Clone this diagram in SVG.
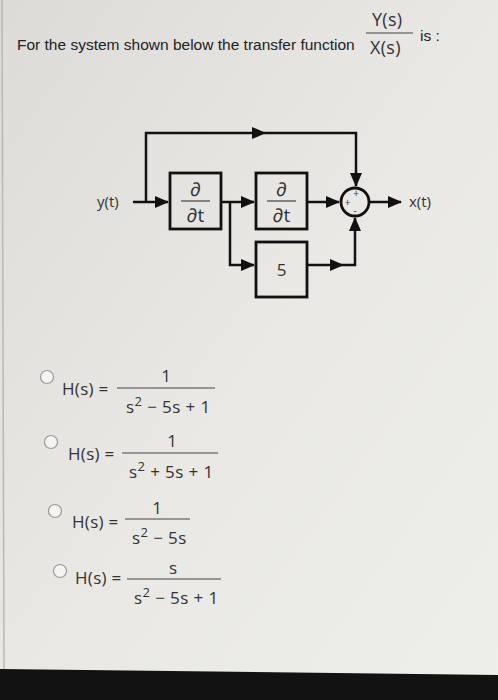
<svg xmlns="http://www.w3.org/2000/svg" width="498" height="700" viewBox="0 0 498 700">
<defs>
<linearGradient id="bg" x1="0" y1="0" x2="1" y2="1">
<stop offset="0" stop-color="#dddbd8"/>
<stop offset="0.5" stop-color="#e9e8e5"/>
<stop offset="1" stop-color="#eeeeea"/>
</linearGradient>
<marker id="ah" markerUnits="userSpaceOnUse" markerWidth="14" markerHeight="12" refX="13" refY="6" orient="auto">
<path d="M0,0 L14,6 L0,12 Z" fill="#111"/>
</marker>
</defs>
<style>
.q{font-family:"Liberation Sans",Arial,sans-serif;font-size:15.5px;fill:#222}
.m{font-family:"Open Sans","DejaVu Sans",sans-serif;fill:#333}
.w{stroke:#111;stroke-width:2.5;fill:none}
.blk{fill:none;stroke:#111;stroke-width:2.8}
.fl{stroke:#444;stroke-width:1.2}
.rad{fill:#f4f4f2;stroke:#999;stroke-width:1.2}
</style>
<rect width="498" height="700" fill="url(#bg)"/>
<line x1="2" y1="0" x2="4" y2="670" stroke="#b8b8b4" stroke-width="1.5"/>
<polygon points="0,669 498,675 498,700 0,700" fill="#121212"/>

<g id="question">
<text class="q" x="17" y="50">For the system shown below the transfer function</text>
<text class="m" x="372" y="26" font-size="18" letter-spacing="0.3">Y(s)</text>
<line class="fl" x1="366" y1="33" x2="413" y2="33"/>
<text class="m" x="370" y="54" font-size="18" letter-spacing="0.3">X(s)</text>
<text class="q" x="420" y="41">is :</text>
</g>

<g id="connectors">
<path class="w" d="M133,202 H168" marker-end="url(#ah)"/>
<path class="w" d="M146,202 V133 H356 V186" marker-end="url(#ah)"/>
<path d="M252,127 L266,133 L252,139 Z" fill="#111"/>
<path class="w" d="M222,202 H254" marker-end="url(#ah)"/>
<path class="w" d="M230,202 V265 H254" marker-end="url(#ah)"/>
<path class="w" d="M308,202 H339" marker-end="url(#ah)"/>
<path class="w" d="M308,265 H355 V218" marker-end="url(#ah)"/>
<path d="M330,259 L344,265 L330,271 Z" fill="#111"/>
<path class="w" d="M370,202 H401" marker-end="url(#ah)"/>
</g>

<g id="y_label"><text class="m" x="97" y="207" font-size="15">y(t)</text></g>
<g id="x_label"><text class="m" x="409" y="207" font-size="15">x(t)</text></g>

<g id="deriv1">
<rect class="blk" x="170" y="173" width="51" height="56"/>
<text class="m" x="195.5" y="196" font-size="19" text-anchor="middle">∂</text>
<line class="fl" x1="181" y1="201" x2="210" y2="201"/>
<text class="m" x="195.5" y="222" font-size="19" text-anchor="middle">∂t</text>
</g>
<g id="deriv2">
<rect class="blk" x="256" y="173" width="51" height="56"/>
<text class="m" x="281.5" y="196" font-size="19" text-anchor="middle">∂</text>
<line class="fl" x1="267" y1="201" x2="296" y2="201"/>
<text class="m" x="281.5" y="222" font-size="19" text-anchor="middle">∂t</text>
</g>
<g id="gain5">
<rect class="blk" x="256" y="242" width="51" height="55"/>
<text class="m" x="281.5" y="276" font-size="17" text-anchor="middle">5</text>
</g>
<g id="sum">
<circle cx="355" cy="202" r="14" fill="none" stroke="#111" stroke-width="2.8"/>
<text class="m" x="356" y="197" font-size="10" text-anchor="middle">+</text>
<text class="m" x="347.5" y="206" font-size="10" text-anchor="middle">+</text>
<text class="m" x="355" y="214" font-size="10" text-anchor="middle">-</text>
</g>

<g id="opt1">
<circle class="rad" cx="47" cy="377" r="6.5"/>
<text class="m" x="62" y="395" font-size="17" letter-spacing="0.3">H(s) =</text>
<line class="fl" x1="117" y1="388" x2="215" y2="388"/>
<text class="m" x="166" y="382" font-size="17" text-anchor="middle">1</text>
<text class="m" x="126" y="413" font-size="17" letter-spacing="0.4">s<tspan dy="-7" font-size="13">2</tspan><tspan dy="7"> − 5s + 1</tspan></text>
</g>
<g id="opt2">
<circle class="rad" cx="51" cy="442" r="6.5"/>
<text class="m" x="68" y="460" font-size="17" letter-spacing="0.3">H(s) =</text>
<line class="fl" x1="122" y1="453" x2="218" y2="453"/>
<text class="m" x="172" y="447" font-size="17" text-anchor="middle">1</text>
<text class="m" x="129" y="478" font-size="17" letter-spacing="0.4">s<tspan dy="-7" font-size="13">2</tspan><tspan dy="7"> + 5s + 1</tspan></text>
</g>
<g id="opt3">
<circle class="rad" cx="55" cy="511" r="6.5"/>
<text class="m" x="72" y="528" font-size="17" letter-spacing="0.3">H(s) =</text>
<line class="fl" x1="125" y1="519" x2="190" y2="519"/>
<text class="m" x="157" y="514" font-size="17" text-anchor="middle">1</text>
<text class="m" x="132" y="544" font-size="17" letter-spacing="0.4">s<tspan dy="-7" font-size="13">2</tspan><tspan dy="7"> − 5s</tspan></text>
</g>
<g id="opt4">
<circle class="rad" cx="60" cy="571" r="6.5"/>
<text class="m" x="75" y="584" font-size="17" letter-spacing="0.3">H(s) =</text>
<line class="fl" x1="127" y1="579" x2="221" y2="579"/>
<text class="m" x="173" y="574" font-size="17" text-anchor="middle">s</text>
<text class="m" x="134" y="604" font-size="17" letter-spacing="0.4">s<tspan dy="-7" font-size="13">2</tspan><tspan dy="7"> − 5s + 1</tspan></text>
</g>
</svg>
